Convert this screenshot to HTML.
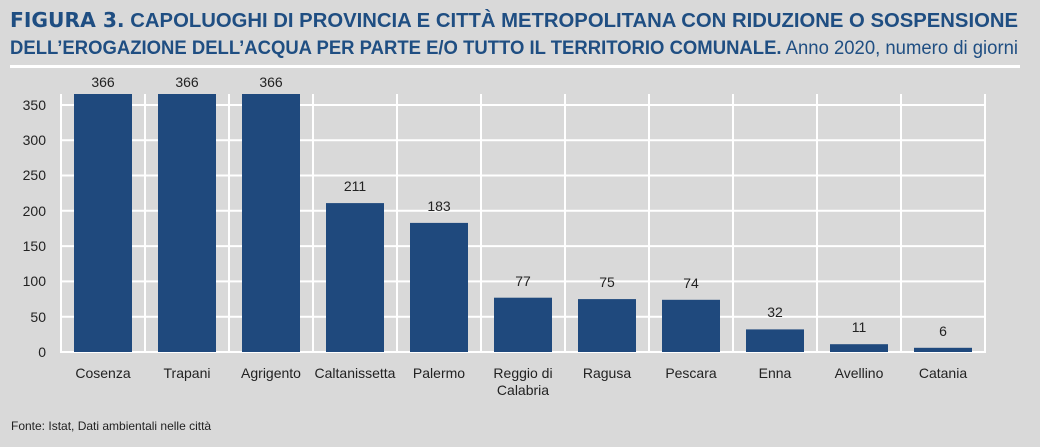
<!DOCTYPE html>
<html><head><meta charset="utf-8"><style>
body{margin:0;background:#d9d9d9;}
svg{display:block;font-family:"Liberation Sans",sans-serif;}
</style></head><body>
<svg width="1040" height="447" viewBox="0 0 1040 447">
<rect width="1040" height="447" fill="#d9d9d9"/>
<text x="10" y="27" font-size="20" fill="#1f4e82" textLength="1008" lengthAdjust="spacingAndGlyphs"><tspan font-weight="bold" font-family="DejaVu Sans">FIGURA 3.</tspan><tspan font-weight="bold"> CAPOLUOGHI DI PROVINCIA E CITTÀ METROPOLITANA CON RIDUZIONE O SOSPENSIONE</tspan></text>
<text x="10" y="54" font-size="19" fill="#1f4e82" textLength="1008" lengthAdjust="spacingAndGlyphs"><tspan font-weight="bold">DELL’EROGAZIONE DELL’ACQUA PER PARTE E/O TUTTO IL TERRITORIO COMUNALE.</tspan><tspan> Anno 2020, numero di giorni</tspan></text>
<rect x="10" y="65" width="1010" height="3" fill="#fff"/>
<g stroke="#fff" stroke-width="2">
<line x1="61" y1="316.7" x2="985" y2="316.7"/><line x1="61" y1="281.4" x2="985" y2="281.4"/>
<line x1="61" y1="246.1" x2="985" y2="246.1"/><line x1="61" y1="210.8" x2="985" y2="210.8"/>
<line x1="61" y1="175.5" x2="985" y2="175.5"/><line x1="61" y1="140.3" x2="985" y2="140.3"/>
<line x1="61" y1="105" x2="985" y2="105"/>
<line x1="61" y1="94" x2="61" y2="352"/><line x1="145" y1="94" x2="145" y2="352"/><line x1="229" y1="94" x2="229" y2="352"/><line x1="313" y1="94" x2="313" y2="352"/><line x1="397" y1="94" x2="397" y2="352"/><line x1="481" y1="94" x2="481" y2="352"/><line x1="565" y1="94" x2="565" y2="352"/><line x1="649" y1="94" x2="649" y2="352"/><line x1="733" y1="94" x2="733" y2="352"/><line x1="817" y1="94" x2="817" y2="352"/><line x1="901" y1="94" x2="901" y2="352"/><line x1="985" y1="94" x2="985" y2="352"/>
<line x1="60" y1="352" x2="986" y2="352"/>
</g>
<g font-size="14" fill="#222" text-anchor="end">
<text x="46" y="357">0</text><text x="46" y="322">50</text><text x="46" y="286">100</text><text x="46" y="251">150</text><text x="46" y="216">200</text><text x="46" y="180">250</text><text x="46" y="145">300</text><text x="46" y="110">350</text>
</g>
<g fill="#1f497d">
<rect x="74" y="94" width="58" height="258"/><rect x="158" y="94" width="58" height="258"/><rect x="242" y="94" width="58" height="258"/>
<rect x="326" y="203.1" width="58" height="148.9"/><rect x="410" y="222.9" width="58" height="129.1"/>
<rect x="494" y="297.7" width="58" height="54.3"/><rect x="578" y="299.1" width="58" height="52.9"/><rect x="662" y="299.8" width="58" height="52.2"/>
<rect x="746" y="329.4" width="58" height="22.6"/><rect x="830" y="344.2" width="58" height="7.8"/><rect x="914" y="347.8" width="58" height="4.2"/>
</g>
<g font-size="14" fill="#222" text-anchor="middle">
<text x="103" y="87">366</text><text x="187" y="87">366</text><text x="271" y="87">366</text>
<text x="355" y="191">211</text><text x="439" y="211">183</text><text x="523" y="286">77</text><text x="607" y="287">75</text><text x="691" y="288">74</text><text x="775" y="317">32</text><text x="859" y="332">11</text><text x="943" y="336">6</text>
<text x="103" y="378">Cosenza</text><text x="187" y="378">Trapani</text><text x="271" y="378">Agrigento</text><text x="355" y="378">Caltanissetta</text><text x="439" y="378">Palermo</text>
<text x="523" y="378">Reggio di</text><text x="523" y="395">Calabria</text>
<text x="607" y="378">Ragusa</text><text x="691" y="378">Pescara</text><text x="775" y="378">Enna</text><text x="859" y="378">Avellino</text><text x="943" y="378">Catania</text>
</g>
<text x="11" y="430" font-size="12" fill="#222">Fonte: Istat, Dati ambientali nelle città</text>
</svg>
</body></html>
